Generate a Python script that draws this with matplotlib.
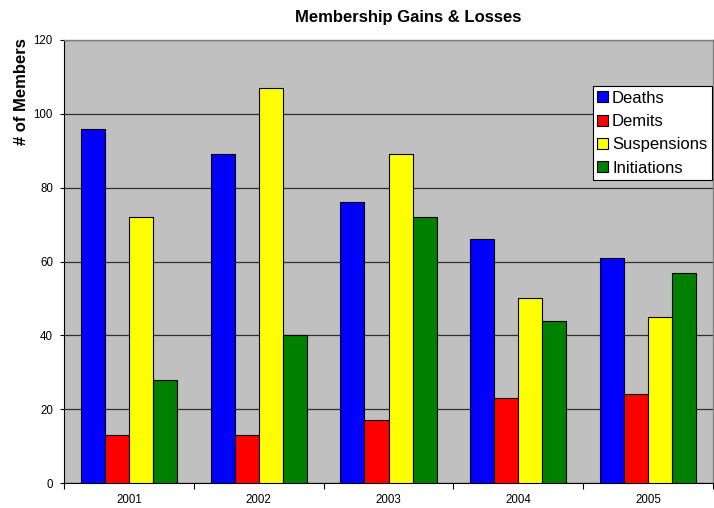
import numpy as np
import matplotlib
matplotlib.use("Agg")
import matplotlib.pyplot as plt

plt.rcParams['font.family'] = ['Liberation Sans', 'DejaVu Sans']

years = ['2001', '2002', '2003', '2004', '2005']
series_names = ['Deaths', 'Demits', 'Suspensions', 'Initiations']
deaths = [96, 89, 76, 66, 61]
demits = [13, 13, 17, 23, 24]
suspensions = [72, 107, 89, 50, 45]
initiations = [28, 40, 72, 44, 57]
colors = ['#0000FF', '#FF0000', '#FFFF00', '#008000']

fig = plt.figure(figsize=(7.14, 5.08), dpi=100)
ax = fig.add_axes([64 / 714, 1 - 483 / 508, 649 / 714, 443 / 508])
ax.set_facecolor('#C0C0C0')

x = np.arange(len(years))
bw = 0.185
all_series = [deaths, demits, suspensions, initiations]
for i, (vals, name, c) in enumerate(zip(all_series, series_names, colors)):
    ax.bar(x + (i - 1.5) * bw, vals, width=bw, color=c, edgecolor='black',
           linewidth=0.8, label=name, zorder=3)

ax.set_xlim(-0.5, len(years) - 0.5)
ax.set_ylim(0, 120)
ax.set_yticks(range(0, 121, 20))
ax.yaxis.grid(True, color='#303030', linewidth=0.9, zorder=1)
ax.set_axisbelow(True)

# category ticks between groups, labels in the middle
ax.set_xticks(np.arange(-0.5, len(years), 1.0))
ax.set_xticklabels([])
ax.set_xticks(x, minor=True)
ax.set_xticklabels(years, minor=True, fontsize=8.3)
ax.tick_params(axis='x', which='minor', length=0, pad=8)
ax.tick_params(axis='x', which='major', length=4, width=0.8, direction='out')
ax.tick_params(axis='y', length=3, width=0.8, direction='out', labelsize=8.3, pad=5)

for s in ['top', 'right']:
    ax.spines[s].set_color('#808080')
    ax.spines[s].set_linewidth(1.0)
for s in ['left', 'bottom']:
    ax.spines[s].set_color('black')
    ax.spines[s].set_linewidth(0.8)

fig.text(408 / 714, 1 - 17.5 / 508, 'Membership Gains & Losses', ha='center',
         va='center', fontsize=12, fontweight='bold')
fig.text(22 / 714, 1 - 92 / 508, '# of Members', ha='center', va='center',
         rotation=90, fontsize=12, fontweight='bold')

leg = ax.legend(loc='upper right', bbox_to_anchor=(1.0 - 1 / 649, 1 - 46 / 443),
                fontsize=12, frameon=True, fancybox=False, borderpad=0.28,
                handlelength=0.62, handleheight=0.62, handletextpad=0.27,
                labelspacing=0.5, borderaxespad=0)
leg.get_frame().set_edgecolor('black')
leg.get_frame().set_linewidth(0.8)
leg.get_frame().set_facecolor('white')
leg.get_frame().set_alpha(1)

fig.savefig('out.png', dpi=100, facecolor='white')
